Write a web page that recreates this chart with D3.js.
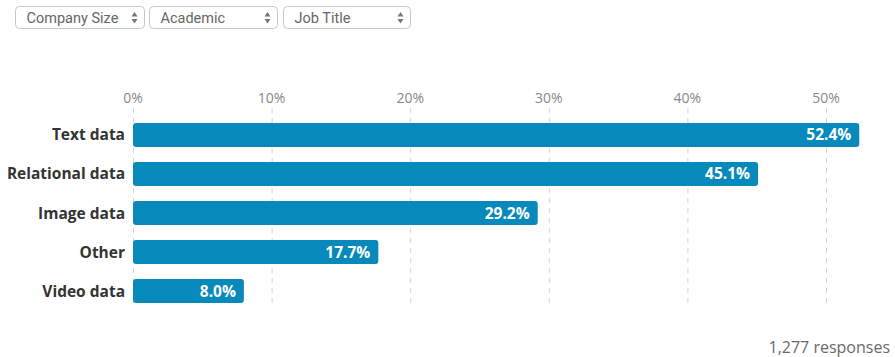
<!DOCTYPE html>
<html>
<head>
<meta charset="utf-8">
<script src="https://cdn.jsdelivr.net/npm/d3@7"></script>
<style>
  html, body { margin: 0; padding: 0; background: #fff; }
  body { width: 895px; height: 357px; overflow: hidden; }
  svg { display: block; }
</style>
</head>
<body>
<svg id="chart" width="895" height="357"></svg>
<script>
// Filter controls shown above the chart
const filters = ["Company Size", "Academic", "Job Title"];
// Data types used, share of respondents (%)
const categories = ["Text data", "Relational data", "Image data", "Other", "Video data"];
const values = [52.4, 45.1, 29.2, 17.7, 8.0];
const tickValues = [0, 10, 20, 30, 40, 50];
const responses = "1,277 responses";

const svg = d3.select("#chart");
const font = "'Open Sans', Roboto, sans-serif";
const uiFont = "Roboto, 'Open Sans', sans-serif";

// ---- dropdown-style filter boxes ----
const boxes = [{x: 15, w: 129}, {x: 149, w: 128}, {x: 283, w: 127}];
const fg = svg.append("g");
filters.forEach((label, i) => {
  const b = boxes[i];
  const g = fg.append("g").attr("transform", `translate(${b.x + 0.5},${6.5})`);
  g.append("rect").attr("width", b.w).attr("height", 22).attr("rx", 4)
    .attr("fill", "#fff").attr("stroke", "#c8c8c8");
  g.append("text").attr("x", 11).attr("y", 16).attr("font-family", uiFont)
    .attr("font-size", 14.5).attr("fill", "#666").text(label);
  // up/down arrows
  const ax = b.w - 10;
  g.append("path").attr("d", `M${ax - 3},10 L${ax + 3},10 L${ax},5.5 Z`).attr("fill", "#777");
  g.append("path").attr("d", `M${ax - 3},12.5 L${ax + 3},12.5 L${ax},17 Z`).attr("fill", "#777");
});

// ---- scales ----
const x = d3.scaleLinear().domain([0, 50]).range([133, 826]);
const y = d3.scaleBand().domain(categories).range([123, 303]).paddingInner(0.385).paddingOuter(0);

// ---- dashed gridlines + tick labels ----
const grid = svg.append("g");
grid.selectAll("line").data(tickValues).join("line")
  .attr("x1", d => x(d) + 0.5).attr("x2", d => x(d) + 0.5)
  .attr("y1", 108).attr("y2", 303)
  .attr("stroke", "#d4d4d4").attr("stroke-width", 1).attr("stroke-dasharray", "5,5");
grid.selectAll("text").data(tickValues).join("text")
  .attr("x", d => x(d)).attr("y", 103)
  .attr("text-anchor", "middle").attr("font-family", font)
  .attr("font-size", 14).attr("fill", "#888")
  .text(d => d + "%");

// ---- bars ----
const data = categories.map((c, i) => ({c, v: values[i]}));
const bars = svg.append("g");
bars.selectAll("rect").data(data).join("rect")
  .attr("x", x(0)).attr("y", d => y(d.c))
  .attr("width", d => x(d.v) - x(0)).attr("height", y.bandwidth())
  .attr("rx", 3).attr("fill", "#0889bb");

// value labels inside bar ends
bars.selectAll("text.val").data(data).join("text").attr("class", "val")
  .attr("x", d => x(d.v) - 8).attr("y", d => y(d.c) + y.bandwidth() / 2 + 5.5)
  .attr("text-anchor", "end").attr("font-family", font)
  .attr("font-size", 15.5).attr("font-weight", 700).attr("fill", "#fff")
  .text(d => d.v.toFixed(1) + "%");

// category labels
bars.selectAll("text.cat").data(data).join("text").attr("class", "cat")
  .attr("x", 125).attr("y", d => y(d.c) + y.bandwidth() / 2 + 5.5)
  .attr("text-anchor", "end").attr("font-family", font)
  .attr("font-size", 15.5).attr("font-weight", 700).attr("fill", "#333")
  .text(d => d.c);

// response count
svg.append("text").attr("x", 890).attr("y", 353).attr("text-anchor", "end")
  .attr("font-family", font).attr("font-size", 16).attr("fill", "#6a6a6a")
  .text(responses);
</script>
</body>
</html>
